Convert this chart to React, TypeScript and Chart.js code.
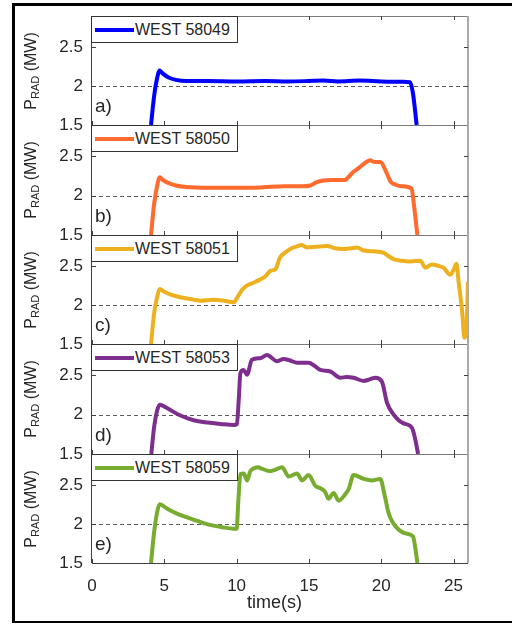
import React, { useEffect, useRef } from 'react';
import { Chart, registerables } from 'chart.js';

Chart.register(...registerables);

// ---------- data ----------
const X_TICKS = [0, 5, 10, 15, 20, 25];
const Y_TICKS = [1.5, 2, 2.5];
const X_MIN = 0;
const X_MAX = 26;
const Y_MIN = 1.5;
const Y_MAX = 2.9;
const REF_LEVEL = 2;

const SHOT_NAMES = ['WEST 58049', 'WEST 58050', 'WEST 58051', 'WEST 58053', 'WEST 58059'];
const PANEL_LABELS = ['a)', 'b)', 'c)', 'd)', 'e)'];
const SERIES_COLORS = ['#0000FF', '#FF6A2E', '#EDB120', '#7E2F8E', '#77AC30'];

const T_58049 = [4.08, 4.3, 4.5, 4.68, 4.9, 5.3, 5.8, 6.5, 8, 10, 12, 13.5, 15, 16, 17, 18.5, 20, 21.5, 22.0, 22.2, 22.45];
const P_58049 = [1.5, 1.88, 2.1, 2.2, 2.16, 2.11, 2.08, 2.065, 2.065, 2.06, 2.065, 2.06, 2.065, 2.07, 2.06, 2.07, 2.06, 2.055, 2.05, 1.9, 1.5];

const T_58050 = [4.08, 4.3, 4.5, 4.68, 4.9, 5.3, 5.8, 6.5, 8, 10, 11, 12, 13.3, 14.5, 15.1, 15.5, 15.9, 16.5, 17.5, 17.7, 18.0, 18.5, 18.9, 19.25, 19.5, 19.95, 20.3, 20.65, 21.0, 21.4, 22.1, 22.25, 22.5];
const P_58050 = [1.5, 1.9, 2.12, 2.235, 2.2, 2.16, 2.13, 2.11, 2.1, 2.1, 2.1, 2.11, 2.12, 2.12, 2.13, 2.17, 2.19, 2.2, 2.2, 2.23, 2.29, 2.36, 2.42, 2.45, 2.43, 2.43, 2.32, 2.18, 2.14, 2.12, 2.09, 1.9, 1.5];

const T_58051 = [4.08, 4.3, 4.5, 4.68, 5.0, 5.5, 6.1, 7.0, 7.5, 8.4, 9.0, 9.8, 10.05, 10.4, 10.7, 11.2, 11.64, 12.0, 12.33, 12.68, 13.0, 13.4, 13.71, 14.1, 14.52, 14.87, 15.5, 16.25, 16.8, 17.4, 17.9, 18.33, 18.79, 19.5, 20.17, 20.5, 20.86, 21.4, 22.0, 22.7, 23.05, 23.5, 24.0, 24.3, 24.78, 25.0, 25.2, 25.35, 25.6, 25.75, 25.88, 26.0];
const P_58051 = [1.5, 1.9, 2.1, 2.205, 2.17, 2.13, 2.1, 2.07, 2.055, 2.068, 2.06, 2.035, 2.1, 2.2, 2.25, 2.29, 2.33, 2.37, 2.44, 2.46, 2.61, 2.68, 2.72, 2.75, 2.77, 2.74, 2.75, 2.76, 2.73, 2.72, 2.73, 2.74, 2.7, 2.69, 2.67, 2.63, 2.59, 2.57, 2.56, 2.57, 2.48, 2.52, 2.5, 2.48, 2.39, 2.45, 2.53, 2.3, 1.91, 1.58, 1.65, 2.3];

const T_58053 = [4.1, 4.3, 4.5, 4.68, 5.18, 6.0, 7.03, 8.0, 9.0, 9.8, 10.02, 10.15, 10.26, 10.49, 10.72, 11.06, 11.64, 12.1, 12.8, 13.25, 13.7, 14.18, 14.98, 15.4, 15.79, 16.48, 17.17, 17.6, 18.09, 18.79, 19.2, 19.6, 20.05, 20.4, 20.86, 21.2, 21.55, 22.13, 22.36, 22.55];
const P_58053 = [1.5, 1.85, 2.05, 2.127, 2.085, 2.0, 1.93, 1.9, 1.88, 1.87, 1.88, 2.2, 2.53, 2.57, 2.51, 2.7, 2.72, 2.76, 2.68, 2.71, 2.69, 2.66, 2.66, 2.62, 2.57, 2.55, 2.47, 2.48, 2.47, 2.43, 2.45, 2.47, 2.42, 2.15, 2.0, 1.93, 1.89, 1.83, 1.68, 1.5];

const T_58059 = [4.08, 4.3, 4.5, 4.68, 5.18, 5.8, 6.57, 7.3, 7.95, 9.0, 9.8, 10.0, 10.12, 10.26, 10.49, 10.72, 10.95, 11.52, 11.64, 12.33, 12.7, 13.14, 13.6, 14.18, 14.52, 14.98, 15.44, 15.79, 16.1, 16.36, 16.71, 17.05, 17.5, 17.75, 18.09, 18.79, 19.36, 19.94, 20.2, 20.51, 20.8, 21.09, 21.67, 22.2, 22.35, 22.5];
const P_58059 = [1.5, 1.9, 2.15, 2.253, 2.2, 2.14, 2.085, 2.04, 2.0, 1.96, 1.94, 1.94, 2.3, 2.64, 2.65, 2.56, 2.68, 2.73, 2.72, 2.68, 2.7, 2.73, 2.61, 2.65, 2.56, 2.63, 2.49, 2.46, 2.42, 2.325, 2.4, 2.3, 2.38, 2.45, 2.63, 2.58, 2.56, 2.58, 2.4, 2.14, 2.02, 1.95, 1.88, 1.84, 1.7, 1.5];

const SERIES_T = [T_58049, T_58050, T_58051, T_58053, T_58059];
const SERIES_P = [P_58049, P_58050, P_58051, P_58053, P_58059];

// ---------- layout ----------
const W = 512;
const H = 624;
const PLOT_LEFT = 92;
const PLOT_RIGHT = 468;
const PANEL_TOPS = [16, 125, 235, 344, 454];
const PLOT_BOTTOM = 563;
const PAD = 26;
const FONT = '"Liberation Sans", Arial, Helvetica, sans-serif';
const TEXT = '#262626';

const framePlugin = {
  id: 'matlabFrame',
  beforeDatasetsDraw(chart: any) {
    const { ctx, chartArea, scales } = chart;
    const { left, right, top, bottom } = chartArea;
    const x = scales.x;
    const y = scales.y;
    ctx.save();
    const yr = Math.round(y.getPixelForValue(REF_LEVEL)) + 0.5;
    ctx.strokeStyle = '#5a5a5a';
    ctx.lineWidth = 1;
    ctx.setLineDash([4, 3]);
    ctx.beginPath();
    ctx.moveTo(left, yr);
    ctx.lineTo(right, yr);
    ctx.stroke();
    ctx.setLineDash([]);
    ctx.strokeStyle = '#7a7a7a';
    ctx.beginPath();
    ctx.moveTo(left, top + 0.5);
    ctx.lineTo(right, top + 0.5);
    ctx.stroke();
    ctx.strokeStyle = '#a8a8a8';
    ctx.lineWidth = 2;
    ctx.beginPath();
    ctx.moveTo(right, top);
    ctx.lineTo(right, bottom);
    ctx.stroke();
    ctx.strokeStyle = '#404040';
    ctx.lineWidth = 1;
    ctx.beginPath();
    ctx.moveTo(left - 0.5, top);
    ctx.lineTo(left - 0.5, bottom);
    ctx.moveTo(left, bottom + 0.5);
    ctx.lineTo(right, bottom + 0.5);
    ctx.stroke();
    const tl = 4;
    ctx.beginPath();
    X_TICKS.forEach((v) => {
      const px = Math.round(x.getPixelForValue(v)) + 0.5;
      ctx.moveTo(px, bottom);
      ctx.lineTo(px, bottom - tl);
      ctx.moveTo(px, top);
      ctx.lineTo(px, top + tl);
    });
    Y_TICKS.forEach((v) => {
      const py = Math.round(y.getPixelForValue(v)) + 0.5;
      ctx.moveTo(left, py);
      ctx.lineTo(left + tl, py);
      ctx.moveTo(right, py);
      ctx.lineTo(right - tl, py);
    });
    ctx.stroke();
    ctx.restore();
  },
};

function Panel({ idx }: { idx: number }) {
  const ref = useRef<HTMLCanvasElement>(null);
  const top = PANEL_TOPS[idx];
  const isLast = idx === PANEL_TOPS.length - 1;
  const bottom = isLast ? PLOT_BOTTOM : PANEL_TOPS[idx + 1];
  const canvasTop = top - PAD;
  const canvasH = isLast ? H - canvasTop : bottom - top + 2 * PAD;
  const xAxisH = isLast ? H - PLOT_BOTTOM : 0;

  useEffect(() => {
    const times = SERIES_T[idx];
    const vals = SERIES_P[idx];
    const chart = new Chart(ref.current as HTMLCanvasElement, {
      type: 'line',
      data: {
        datasets: [
          {
            label: SHOT_NAMES[idx],
            data: times.map((t, i) => ({ x: t, y: vals[i] })),
            borderColor: SERIES_COLORS[idx],
            backgroundColor: SERIES_COLORS[idx],
            borderWidth: 4,
            pointRadius: 0,
            fill: false,
            cubicInterpolationMode: 'monotone',
            borderJoinStyle: 'round',
            borderCapStyle: 'butt',
          },
        ],
      },
      options: {
        animation: false,
        responsive: false,
        maintainAspectRatio: false,
        devicePixelRatio: 1,
        events: [],
        layout: { autoPadding: false, padding: { left: 0, right: W - PLOT_RIGHT, top: PAD, bottom: isLast ? 0 : PAD } },
        plugins: { legend: { display: false }, tooltip: { enabled: false }, title: { display: false } },
        scales: {
          x: {
            type: 'linear',
            min: X_MIN,
            max: X_MAX,
            display: isLast,
            grid: { display: false, drawTicks: false },
            border: { display: false },
            afterBuildTicks: (s: any) => {
              s.ticks = X_TICKS.map((v) => ({ value: v }));
            },
            afterFit: (s: any) => {
              if (isLast) s.height = xAxisH;
            },
            ticks: {
              font: { family: FONT, size: 17 },
              color: TEXT,
              padding: 13,
              maxRotation: 0,
              autoSkip: false,
              callback: (v: any) => String(v),
            },
          },
          y: {
            type: 'linear',
            min: Y_MIN,
            max: Y_MAX,
            grid: { display: false, drawTicks: false },
            border: { display: false },
            afterBuildTicks: (s: any) => {
              s.ticks = Y_TICKS.map((v) => ({ value: v }));
            },
            afterFit: (s: any) => {
              s.width = PLOT_LEFT;
            },
            ticks: {
              font: { family: FONT, size: 17 },
              color: TEXT,
              padding: 9,
              callback: (v: any) => String(v),
            },
          },
        },
      } as any,
      plugins: [framePlugin],
    });
    return () => chart.destroy();
  }, [idx]);

  const midY = (top + bottom) / 2;
  return (
    <>
      <canvas
        ref={ref}
        width={W}
        height={canvasH}
        style={{ position: 'absolute', left: 0, top: canvasTop, width: W, height: canvasH }}
      />
      <div
        style={{
          position: 'absolute',
          left: 31,
          top: midY,
          transform: 'translate(-50%, -50%) rotate(-90deg)',
          whiteSpace: 'nowrap',
          fontFamily: FONT,
          fontSize: 16,
          color: TEXT,
          lineHeight: '16px',
        }}
      >
        P<sub style={{ fontSize: 11, verticalAlign: '-3px', lineHeight: 0 }}>RAD</sub> (MW)
      </div>
      <div
        style={{
          position: 'absolute',
          left: 95,
          top: bottom - 28.6,
          fontFamily: FONT,
          fontSize: 19,
          lineHeight: '19px',
          color: TEXT,
          whiteSpace: 'nowrap',
        }}
      >
        {PANEL_LABELS[idx]}
      </div>
      <div
        style={{
          position: 'absolute',
          left: 91,
          top: top,
          width: 147,
          height: 27,
          boxSizing: 'border-box',
          border: '1px solid #333333',
          background: '#ffffff',
        }}
      >
        <div
          style={{
            position: 'absolute',
            left: 3,
            top: 11,
            width: 39,
            height: 4,
            background: SERIES_COLORS[idx],
          }}
        />
        <div
          style={{
            position: 'absolute',
            left: 43,
            top: 4,
            fontFamily: FONT,
            fontSize: 16,
            lineHeight: '18px',
            color: TEXT,
            whiteSpace: 'nowrap',
          }}
        >
          {SHOT_NAMES[idx]}
        </div>
      </div>
    </>
  );
}

export default function App() {
  return (
    <div
      style={{
        position: 'absolute',
        left: 0,
        top: 0,
        width: W,
        height: H,
        background: '#ffffff',
        overflow: 'hidden',
      }}
    >
      <div
        style={{
          position: 'absolute',
          left: 12,
          top: 3,
          width: W - 12,
          height: 620,
          boxSizing: 'border-box',
          borderTop: '3px solid #000',
          borderLeft: '3px solid #000',
          borderBottom: '2px solid #000',
        }}
      />
      {PANEL_TOPS.map((_, i) => (
        <Panel key={i} idx={i} />
      ))}
      <div
        style={{
          position: 'absolute',
          left: 247,
          top: 593,
          fontFamily: FONT,
          fontSize: 18,
          lineHeight: '18px',
          color: TEXT,
          whiteSpace: 'nowrap',
        }}
      >
        time(s)
      </div>
    </div>
  );
}
